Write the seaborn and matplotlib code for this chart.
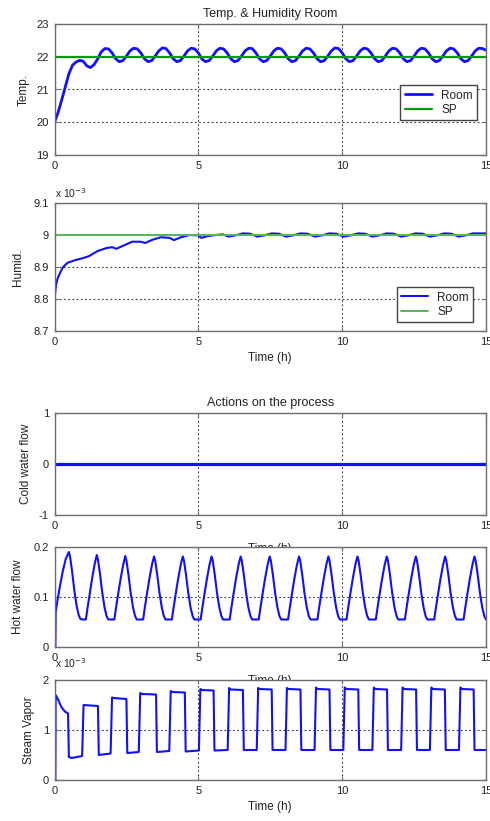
import numpy as np
import matplotlib
matplotlib.use("Agg")
import matplotlib.pyplot as plt
from matplotlib.ticker import FormatStrFormatter
import seaborn as sns

# ---------------- data ----------------
# Room temperature (deg C), sampled every 0.125 h
temp_time = np.arange(0, 15.001, 0.125)
temp_room = [
    20.00, 20.30, 20.68, 21.08, 21.48, 21.74, 21.84, 21.89,
    21.86, 21.72, 21.67, 21.76, 21.93, 22.15, 22.25, 22.24,
    22.12, 21.94, 21.85, 21.88, 22.02,
    22.18, 22.26, 22.24, 22.12, 21.94, 21.85, 21.88, 22.02,
    22.18, 22.27, 22.25, 22.12, 21.94, 21.85, 21.88, 22.02,
    22.18, 22.26, 22.24, 22.12, 21.93, 21.85, 21.88, 22.02,
    22.18, 22.26, 22.24, 22.12, 21.94, 21.85, 21.88, 22.02,
    22.18, 22.26, 22.25, 22.12, 21.94, 21.85, 21.88, 22.02,
    22.18, 22.26, 22.24, 22.12, 21.94, 21.85, 21.88, 22.02,
    22.18, 22.26, 22.24, 22.12, 21.94, 21.85, 21.88, 22.02,
    22.18, 22.27, 22.25, 22.12, 21.94, 21.85, 21.88, 22.02,
    22.18, 22.26, 22.24, 22.12, 21.94, 21.85, 21.88, 22.02,
    22.18, 22.26, 22.24, 22.12, 21.94, 21.85, 21.88, 22.02,
    22.18, 22.26, 22.24, 22.12, 21.94, 21.85, 21.88, 22.02,
    22.18, 22.26, 22.24, 22.12, 21.94, 21.85, 21.88, 22.02,
    22.18, 22.26, 22.25, 22.20,
]
sp_time = [0.0, 15.0]
temp_sp = [22.0, 22.0]

# Room humidity ratio (x 1e-3 kg/kg)
hum_time = [
    0.0, 0.05, 0.1, 0.2, 0.3, 0.45, 0.7, 1.0, 1.2, 1.5,
    1.8, 2.0, 2.15, 2.4, 2.7, 3.0, 3.15, 3.4, 3.7, 4.0,
    4.15, 4.4, 4.7, 5.0, 5.1, 5.3, 5.6, 5.85, 6.05, 6.3,
    6.55, 6.8, 7.05, 7.3, 7.55, 7.8, 8.05, 8.3, 8.55, 8.8,
    9.05, 9.3, 9.55, 9.8, 10.05, 10.3, 10.55, 10.8, 11.05, 11.3,
    11.55, 11.8, 12.05, 12.3, 12.55, 12.8, 13.05, 13.3, 13.55, 13.8,
    14.05, 14.3, 14.55, 14.8, 15.0,
]
hum_room = [
    8.800, 8.842, 8.862, 8.883, 8.900, 8.913, 8.921, 8.928, 8.934, 8.950,
    8.959, 8.962, 8.957, 8.967, 8.979, 8.979, 8.975, 8.985, 8.993, 8.991,
    8.984, 8.993, 9.000, 8.999, 8.991, 8.996, 9.000, 9.002, 8.995, 8.999,
    9.005, 9.004, 8.995, 8.999, 9.005, 9.004, 8.995, 8.999, 9.005, 9.004,
    8.995, 8.999, 9.005, 9.004, 8.995, 8.999, 9.005, 9.004, 8.995, 8.999,
    9.005, 9.004, 8.995, 8.999, 9.005, 9.004, 8.995, 8.999, 9.005, 9.004,
    8.995, 8.999, 9.005, 9.005, 9.005,
]
hum_sp = [9.0, 9.0]

# Cold water valve
cold_time = [0.0, 15.0]
cold_flow = [0.0, 0.0]

# Hot water valve
hot_time = [
    0.03, 0.04, 0.10, 0.19, 0.29, 0.39, 0.50, 0.54, 0.61, 0.69, 0.77, 0.84, 0.90, 1.00,
    1.09, 1.14, 1.22, 1.31, 1.40, 1.47, 1.51, 1.58, 1.66, 1.74, 1.81, 1.87,
    2.08, 2.13, 2.21, 2.30, 2.39, 2.46, 2.50, 2.57, 2.65, 2.73, 2.80, 2.86,
    3.08, 3.13, 3.21, 3.30, 3.39, 3.46, 3.50, 3.57, 3.65, 3.73, 3.80, 3.86,
    4.08, 4.13, 4.21, 4.30, 4.39, 4.46, 4.50, 4.57, 4.65, 4.73, 4.80, 4.86,
    5.08, 5.13, 5.21, 5.30, 5.39, 5.46, 5.50, 5.57, 5.65, 5.73, 5.80, 5.86,
    6.09, 6.14, 6.22, 6.31, 6.40, 6.47, 6.51, 6.58, 6.66, 6.74, 6.81, 6.87,
    7.10, 7.15, 7.23, 7.32, 7.41, 7.48, 7.52, 7.59, 7.67, 7.75, 7.82, 7.88,
    8.12, 8.17, 8.25, 8.34, 8.43, 8.50, 8.54, 8.61, 8.69, 8.77, 8.84, 8.90,
    9.14, 9.19, 9.27, 9.36, 9.45, 9.52, 9.56, 9.63, 9.71, 9.79, 9.86, 9.92,
    10.15, 10.20, 10.28, 10.37, 10.46, 10.53, 10.57, 10.64, 10.72, 10.80, 10.87, 10.93,
    11.17, 11.22, 11.30, 11.39, 11.48, 11.55, 11.59, 11.66, 11.74, 11.82, 11.89, 11.95,
    12.18, 12.23, 12.31, 12.40, 12.49, 12.56, 12.60, 12.67, 12.75, 12.83, 12.90, 12.96,
    13.20, 13.25, 13.33, 13.42, 13.51, 13.58, 13.62, 13.69, 13.77, 13.85, 13.92, 13.98,
    14.22, 14.27, 14.35, 14.44, 14.53, 14.60, 14.64, 14.71, 14.79, 14.87, 14.94, 15.00,
]
hot_flow = [
    0.000, 0.070, 0.092, 0.122, 0.152, 0.176, 0.190, 0.181, 0.152, 0.113, 0.082, 0.064, 0.056, 0.055,
    0.055, 0.075, 0.105, 0.138, 0.167, 0.184, 0.175, 0.147, 0.109, 0.079, 0.062, 0.055,
    0.055, 0.075, 0.105, 0.137, 0.165, 0.182, 0.173, 0.145, 0.108, 0.079, 0.062, 0.055,
    0.055, 0.075, 0.105, 0.137, 0.165, 0.181, 0.173, 0.145, 0.108, 0.079, 0.062, 0.055,
    0.055, 0.075, 0.105, 0.137, 0.165, 0.181, 0.173, 0.145, 0.108, 0.079, 0.062, 0.055,
    0.055, 0.075, 0.105, 0.137, 0.165, 0.181, 0.173, 0.145, 0.108, 0.079, 0.062, 0.055,
    0.055, 0.075, 0.105, 0.137, 0.165, 0.181, 0.173, 0.145, 0.108, 0.079, 0.062, 0.055,
    0.055, 0.075, 0.105, 0.137, 0.165, 0.181, 0.173, 0.145, 0.108, 0.079, 0.062, 0.055,
    0.055, 0.075, 0.105, 0.137, 0.165, 0.181, 0.173, 0.145, 0.108, 0.079, 0.062, 0.055,
    0.055, 0.075, 0.105, 0.137, 0.165, 0.181, 0.173, 0.145, 0.108, 0.079, 0.062, 0.055,
    0.055, 0.075, 0.105, 0.137, 0.165, 0.181, 0.173, 0.145, 0.108, 0.079, 0.062, 0.055,
    0.055, 0.075, 0.105, 0.137, 0.165, 0.181, 0.173, 0.145, 0.108, 0.079, 0.062, 0.055,
    0.055, 0.075, 0.105, 0.137, 0.165, 0.181, 0.173, 0.145, 0.108, 0.079, 0.062, 0.055,
    0.055, 0.075, 0.105, 0.137, 0.165, 0.181, 0.173, 0.145, 0.108, 0.079, 0.062, 0.055,
    0.055, 0.075, 0.105, 0.137, 0.165, 0.181, 0.173, 0.145, 0.108, 0.079, 0.062, 0.055,
]

# Steam injection (x 1e-3)
steam_time = [
    0.03, 0.04, 0.08, 0.13, 0.19, 0.25, 0.36, 0.47,
    0.50, 0.60, 0.96,
    1.01, 1.51, 1.54, 1.95,
    2.00, 2.06, 2.50, 2.53, 2.93,
    2.98, 3.04, 3.53, 3.56, 3.99,
    4.04, 4.10, 4.53, 4.56, 5.02,
    5.07, 5.12, 5.53, 5.56, 6.02,
    6.07, 6.12, 6.55, 6.58, 7.03,
    7.08, 7.13, 7.55, 7.58, 8.03,
    8.08, 8.13, 8.55, 8.58, 9.04,
    9.09, 9.14, 9.56, 9.59, 10.04,
    10.09, 10.14, 10.56, 10.59, 11.05,
    11.10, 11.15, 11.56, 11.59, 12.05,
    12.10, 12.15, 12.57, 12.60, 13.05,
    13.10, 13.15, 13.57, 13.60, 14.06,
    14.11, 14.16, 14.57, 14.60, 15.00,
]
steam_vapor = [
    0.00, 1.70, 1.66, 1.60, 1.52, 1.45, 1.37, 1.33,
    0.46, 0.44, 0.48,
    1.50, 1.48, 0.50, 0.53,
    1.65, 1.64, 1.62, 0.54, 0.56,
    1.74, 1.72, 1.71, 0.56, 0.58,
    1.78, 1.76, 1.75, 0.57, 0.59,
    1.82, 1.80, 1.79, 0.59, 0.60,
    1.84, 1.81, 1.80, 0.60, 0.60,
    1.84, 1.82, 1.81, 0.60, 0.60,
    1.84, 1.82, 1.81, 0.60, 0.60,
    1.85, 1.82, 1.81, 0.60, 0.60,
    1.85, 1.82, 1.81, 0.60, 0.60,
    1.85, 1.82, 1.81, 0.60, 0.60,
    1.85, 1.82, 1.81, 0.60, 0.60,
    1.85, 1.82, 1.81, 0.60, 0.60,
    1.85, 1.82, 1.81, 0.60, 0.60,
]

x_ticks = [0, 5, 10, 15]

# ---------------- style ----------------
sns.set_theme(style="ticks")
plt.rcParams["font.family"] = ["Liberation Sans", "DejaVu Sans"]
plt.rcParams["axes.facecolor"] = "white"
plt.rcParams["figure.facecolor"] = "white"

TEXT = "#222222"
FRAME = "#6e6e6e"
BLUE = "#1010ff"
GREEN_DARK = "#0c9a0c"
GREEN_LIGHT = "#55b855"

W, H = 490, 821
fig = plt.figure(figsize=(W / 100, H / 100), dpi=100)


def make_axes(top, bottom, left=54.5, right=486.0):
    return fig.add_axes([left / W, 1 - bottom / H, (right - left) / W, (bottom - top) / H])


def style(ax, ylim, yticks, fmt="%g", xlabel=None, labelpad=4):
    ax.set_xlim(0, 15)
    ax.set_ylim(*ylim)
    ax.set_xticks(x_ticks)
    ax.set_yticks(yticks)
    ax.xaxis.set_major_formatter(FormatStrFormatter("%g"))
    ax.yaxis.set_major_formatter(FormatStrFormatter(fmt))
    ax.grid(True, color="#3a3a3a", linestyle=(0, (1.6, 2.2)), linewidth=0.8)
    ax.tick_params(direction="in", length=3, width=0.8, top=True, right=True,
                   labelsize=8, labelcolor=TEXT, color=FRAME, pad=4)
    for s in ax.spines.values():
        s.set_color(FRAME)
        s.set_linewidth(1.0)
    if xlabel:
        ax.set_xlabel(xlabel, fontsize=8.5, color=TEXT, labelpad=labelpad)
    else:
        ax.set_xlabel("")


def legend(ax, anchor):
    leg = ax.legend(loc="lower right", bbox_to_anchor=anchor, frameon=True, fancybox=False,
                    edgecolor="#444444", fontsize=8.5, handlelength=2.3, borderaxespad=0,
                    borderpad=0.35, labelspacing=0.2, handletextpad=0.8, framealpha=1)
    leg.get_frame().set_linewidth(1.0)
    for t in leg.get_texts():
        t.set_color(TEXT)


# --- room temperature ---
ax1 = make_axes(24, 155)
sns.lineplot(x=temp_time, y=temp_room, ax=ax1, color=BLUE, linewidth=2.0,
             estimator=None, sort=False, label="Room")
sns.lineplot(x=sp_time, y=temp_sp, ax=ax1, color=GREEN_DARK, linewidth=1.6,
             estimator=None, sort=False, label="SP")
style(ax1, (19, 23), [19, 20, 21, 22, 23])
ax1.set_ylabel("Temp.", fontsize=8.5, color=TEXT)
ax1.yaxis.set_label_coords(-0.058, 0.5)
ax1.set_title("Temp. & Humidity Room", fontsize=9, color=TEXT, pad=5)
legend(ax1, (0.979, 0.267))

# --- room humidity ---
ax2 = make_axes(203, 331)
sns.lineplot(x=hum_time, y=hum_room, ax=ax2, color=BLUE, linewidth=1.5,
             estimator=None, sort=False, label="Room")
sns.lineplot(x=sp_time, y=hum_sp, ax=ax2, color=GREEN_LIGHT, linewidth=1.4,
             estimator=None, sort=False, label="SP")
style(ax2, (8.7, 9.1), [8.7, 8.8, 8.9, 9.0, 9.1], xlabel="Time (h)", labelpad=4)
ax2.set_ylabel("Humid.", fontsize=8.5, color=TEXT)
ax2.yaxis.set_label_coords(-0.070, 0.5)
legend(ax2, (0.970, 0.070))
fig.text(55 / W, 1 - 198 / H, "x 10$^{-3}$", fontsize=7.5, color=TEXT)

# --- cold water ---
ax3 = make_axes(413, 515)
sns.lineplot(x=cold_time, y=cold_flow, ax=ax3, color=BLUE, linewidth=2.3,
             estimator=None, sort=False)
style(ax3, (-1, 1), [-1, 0, 1], xlabel="Time (h)", labelpad=9)
ax3.set_ylabel("Cold water flow", fontsize=8.5, color=TEXT)
ax3.yaxis.set_label_coords(-0.052, 0.5)
ax3.set_title("Actions on the process", fontsize=9, color=TEXT, pad=5)

# --- hot water ---
ax4 = make_axes(547, 647)
sns.lineplot(x=hot_time, y=hot_flow, ax=ax4, color=BLUE, linewidth=1.5,
             estimator=None, sort=False)
style(ax4, (0, 0.2), [0, 0.1, 0.2], xlabel="Time (h)", labelpad=9)
ax4.set_ylabel("Hot water flow", fontsize=8.5, color=TEXT)
ax4.yaxis.set_label_coords(-0.070, 0.5)

# --- steam ---
ax5 = make_axes(680, 780)
sns.lineplot(x=steam_time, y=steam_vapor, ax=ax5, color=BLUE, linewidth=1.5,
             estimator=None, sort=False)
style(ax5, (0, 2), [0, 1, 2], xlabel="Time (h)", labelpad=4)
ax5.set_ylabel("Steam Vapor", fontsize=8.5, color=TEXT)
ax5.yaxis.set_label_coords(-0.045, 0.5)
fig.text(55 / W, 1 - 668 / H, "x 10$^{-3}$", fontsize=7.5, color=TEXT)

fig.savefig("out.png", dpi=100)
